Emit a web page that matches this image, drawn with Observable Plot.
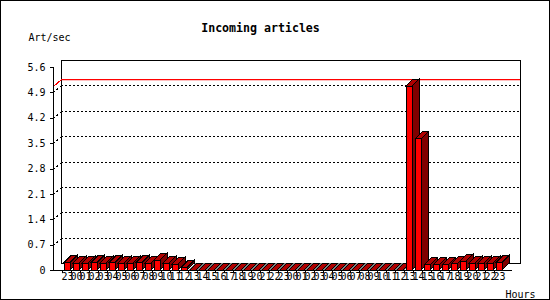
<!DOCTYPE html>
<html><head><meta charset="utf-8">
<script src="https://cdn.jsdelivr.net/npm/d3@7"></script>
<script src="https://cdn.jsdelivr.net/npm/@observablehq/plot@0.6"></script>
<style>
body{margin:0;background:#fff;}
#wrap{position:relative;width:550px;height:300px;overflow:hidden;}
#wrap svg{display:block;}
#border{position:absolute;left:0;top:0;width:550px;height:300px;box-sizing:border-box;border:1px solid #000;pointer-events:none;}
</style></head>
<body><div id="wrap"><div id="border"></div></div>
<script>
const title = "Incoming articles";
const yLabel = "Art/sec";
const xLabel = "Hours";
const hours = ["23",
  "00","01","02","03","04","05","06","07","08","09","10","11",
  "12","13","14","15","16","17","18","19","20","21","22","23",
  "00","01","02","03","04","05","06","07","08","09","10","11",
  "12","13","14","15","16","17","18","19","20","21","22","23"];
const rates = [0.21,
  0.19,0.19,0.21,0.19,0.21,0.19,0.19,0.21,0.19,0.27,0.19,0.16,
  0.07,0,0,0,0,0,0,0,0,0,0,0,
  0,0,0,0,0,0,0,0,0,0,0,0,
  0,5.07,3.62,0.14,0.14,0.14,0.17,0.24,0.19,0.19,0.19,0.21];
const yTicks = [0,0.7,1.4,2.1,2.8,3.5,4.2,4.9,5.6];

const data = rates.map((v, i) => ({i, v}));
const maxRate = d3.max(rates);
const DX = 8, DY = 7;   // wall depth
const BD = 7;           // bar depth
const font = "'DejaVu Sans Mono', 'Liberation Mono', monospace";

function bars3d(index, scales, values) {
  const x = scales.x;
  const bw = x.bandwidth();
  const step = x.step();
  const g = d3.create("svg:g").attr("shape-rendering", "crispEdges");
  const P = pts => "M" + pts.map(p => p.join(",")).join("L") + "Z";
  for (const i of index) {
    const x0 = values.x[i];
    const yb = Math.max(values.y1[i], values.y2[i]);
    const yt = Math.min(values.y1[i], values.y2[i]);
    if (yb - yt < 0.5) {
      const a = x0 - (step - bw) / 2, b = a + step;
      g.append("path").attr("fill", "#808080").attr("stroke", "none")
        .attr("d", P([[a, yb], [b, yb], [b + BD, yb - BD], [a + BD, yb - BD]]));
    }
  }
  for (const i of index) {
    const x0 = values.x[i], x1 = x0 + bw;
    const yb = Math.max(values.y1[i], values.y2[i]);
    const yt = Math.min(values.y1[i], values.y2[i]);
    if (yb - yt >= 0.5) {
      g.append("path").attr("fill", "#800000").attr("stroke", "#000")
        .attr("d", P([[x1, yb], [x1, yt], [x1 + BD, yt - BD], [x1 + BD, yb - BD]]));
    }
    g.append("path").attr("fill", "#b00000").attr("stroke", "#000")
      .attr("d", P([[x0, yt], [x1, yt], [x1 + BD, yt - BD], [x0 + BD, yt - BD]]));
    if (yb - yt >= 0.5) {
      g.append("rect").attr("fill", "#ff0000").attr("stroke", "#000")
        .attr("x", x0).attr("y", yt).attr("width", bw).attr("height", yb - yt);
    }
  }
  return g.node();
}

function connectors(color, dash) {
  return (index, scales, values, dims) => {
    const g = d3.create("svg:g").attr("transform", "translate(0.5,0.5)")
      .attr("stroke", color).attr("fill", "none").attr("shape-rendering", "crispEdges");
    if (dash) g.attr("stroke-dasharray", dash);
    for (const i of index) {
      const y = Math.round(values.y[i]);
      g.append("path").attr("d", `M${dims.marginLeft},${y}L${dims.marginLeft + DX},${y - DY}`);
    }
    return g.node();
  };
}

const chart = Plot.plot({
  width: 550,
  height: 300,
  marginLeft: 53,
  marginRight: 38,
  marginTop: 67,
  marginBottom: 30,
  style: {fontFamily: font, fontSize: "10px", background: "#fff", color: "#000"},
  x: {type: "band", domain: d3.range(hours.length), paddingInner: 0.35, paddingOuter: 0.1, axis: null},
  y: {domain: [0, 5.6], axis: null},
  marks: [
    Plot.frame({dx: DX, dy: -DY, stroke: "#000", shapeRendering: "crispEdges"}),
    Plot.gridY({ticks: yTicks.slice(1, -1), dx: DX, dy: -DY, stroke: "#000", strokeOpacity: 1, strokeDasharray: "2,2", shapeRendering: "crispEdges"}),
    Plot.ruleY([maxRate], {dx: DX, dy: -DY, stroke: "#ff0000", strokeWidth: 1.2}),
    Plot.ruleY(yTicks.slice(1, -1), {render: connectors("#000", "2,2")}),
    Plot.ruleY([maxRate], {render: connectors("#ff0000", null)}),
    Plot.barY(data, {x: "i", y: "v", render: bars3d}),
    Plot.ruleY([0], {stroke: "#000", shapeRendering: "crispEdges"}),
    Plot.frame({anchor: "left", stroke: "#000", shapeRendering: "crispEdges"}),
    Plot.axisY({ticks: yTicks, tickSize: 3, tickPadding: 5, label: null, tickFormat: d => d === 0 ? "0" : d3.format(".1f")(d), fontSize: 10, shapeRendering: "crispEdges"}),
    Plot.axisX({tickSize: 3, label: null, tickFormat: () => "", dx: -4.7, shapeRendering: "crispEdges"}),
    Plot.axisX({tickSize: 0, tickPadding: 2, label: null, tickFormat: i => hours[i], fontSize: 10}),
    Plot.text([title], {frameAnchor: "top-left", dx: 260 - 53, dy: 23 - 67, lineAnchor: "top", textAnchor: "middle", fontWeight: "bold", fontSize: 11.6}),
    Plot.text([yLabel], {frameAnchor: "top-left", dx: 28 - 53, dy: 33 - 67, lineAnchor: "top", textAnchor: "start", fontSize: 10}),
    Plot.text([xLabel], {frameAnchor: "bottom-right", dx: 505 - 512, dy: 290 - 270, lineAnchor: "top", textAnchor: "start", fontSize: 10})
  ]
});
const wrap = document.getElementById("wrap");
wrap.insertBefore(chart, document.getElementById("border"));
</script>
</body></html>
